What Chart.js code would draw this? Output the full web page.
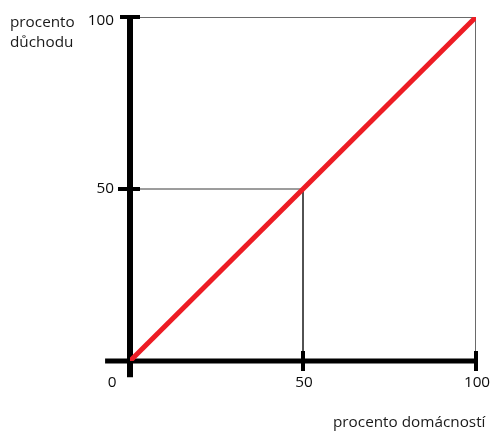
<!DOCTYPE html>
<html>
<head>
<meta charset="utf-8">
<script src="https://cdn.jsdelivr.net/npm/chart.js@4.4.1/dist/chart.umd.min.js"></script>
<style>
  html, body { margin: 0; padding: 0; background: #fff; }
  #wrap { width: 490px; height: 431px; position: relative; }
</style>
</head>
<body>
<div id="wrap"><canvas id="graf" width="490" height="431"></canvas></div>
<script>
// Lorenzova krivka - rovnomerne rozdeleni (schema)
const osaX = [0, 100];            // procento domacnosti
const rovnost = [0, 100];         // procento duchodu
const bodX = 50, bodY = 50;       // vodici bod
const tickyX = [0, 50, 100];
const tickyY = [50, 100];
const popiskyX = ['0', '50', '100'];
const popiskyY = ['50', '100'];
const nazevY = ['procento', 'důchodu'];
const nazevX = 'procento domácností';

const FONT = '15.3px "Open Sans", "Noto Sans", sans-serif';

// popisky a znacky os
const osyPlugin = {
    id: 'osyPlugin',
    afterDatasetsDraw(chart) {
        const ctx = chart.ctx;
        const sx = chart.scales.x, sy = chart.scales.y;
        const x0 = sx.getPixelForValue(0), y0 = sy.getPixelForValue(0);
        ctx.save();
        ctx.strokeStyle = '#000';
        ctx.lineWidth = 4;
        tickyY.forEach(v => {
            const y = sy.getPixelForValue(v);
            ctx.beginPath();
            ctx.moveTo(x0 - (v === 100 ? 10 : 12), y);
            ctx.lineTo(x0 + 10, y);
            ctx.stroke();
        });
        tickyX.forEach(v => {
            if (v === 0) return;
            const x = sx.getPixelForValue(v);
            ctx.beginPath();
            ctx.moveTo(x, y0 - 10);
            ctx.lineTo(x, y0 + 10);
            ctx.stroke();
        });

        ctx.font = FONT;
        ctx.fillStyle = '#0a0a0a';
        ctx.textBaseline = 'middle';
        ctx.textAlign = 'right';
        tickyY.forEach((v, i) => {
            const y = sy.getPixelForValue(v);
            ctx.fillText(popiskyY[i], x0 - 16, y + (v === 100 ? 4 : 0));
        });
        ctx.textAlign = 'center';
        tickyX.forEach((v, i) => {
            const x = sx.getPixelForValue(v);
            ctx.fillText(popiskyX[i], v === 0 ? x - 18 : x + 1, y0 + 22);
        });

        ctx.fillStyle = '#1a1a1a';
        ctx.textAlign = 'left';
        ctx.textBaseline = 'alphabetic';
        ctx.fillText(nazevY[0], 10, 27);
        ctx.fillText(nazevY[1], 10, 47);
        ctx.fillText(nazevX, 333, 427);
        ctx.restore();
    }
};

const datasets = [
    {   // rovnomerne rozdeleni
        data: osaX.map((v, i) => ({ x: v, y: rovnost[i] })),
        borderColor: '#ed1c24', borderWidth: 5
    },
    {   // vodici cary k bodu 50/50
        data: [{ x: 0, y: bodY }, { x: bodX, y: bodY }, { x: bodX, y: 0 }],
        borderColor: '#3a3a3a', borderWidth: 1
    },
    {   // horni a prava hrana
        data: [{ x: 0, y: 100 }, { x: 100, y: 100 }, { x: 100, y: 0 }],
        borderColor: '#3a3a3a', borderWidth: 1.5
    },
    {   // osa x
        data: [{ x: -7.2, y: 0 }, { x: 100, y: 0 }],
        borderColor: '#000', borderWidth: 5, clip: false
    },
    {   // osa y
        data: [{ x: 0, y: -4.7 }, { x: 0, y: 100 }],
        borderColor: '#000', borderWidth: 6, clip: false
    }
];

const canvas = document.getElementById('graf');
new Chart(canvas, {
    type: 'line',
    data: { datasets: datasets },
    options: {
        responsive: false,
        animation: false,
        events: [],
        layout: { padding: { left: 130, right: 14, top: 17, bottom: 70 } },
        elements: { point: { radius: 0 }, line: { tension: 0, fill: false } },
        plugins: { legend: { display: false }, tooltip: { enabled: false } },
        scales: {
            x: { type: 'linear', min: 0, max: 100, display: false },
            y: { type: 'linear', min: 0, max: 100, display: false }
        }
    },
    plugins: [osyPlugin]
});
</script>
</body>
</html>
